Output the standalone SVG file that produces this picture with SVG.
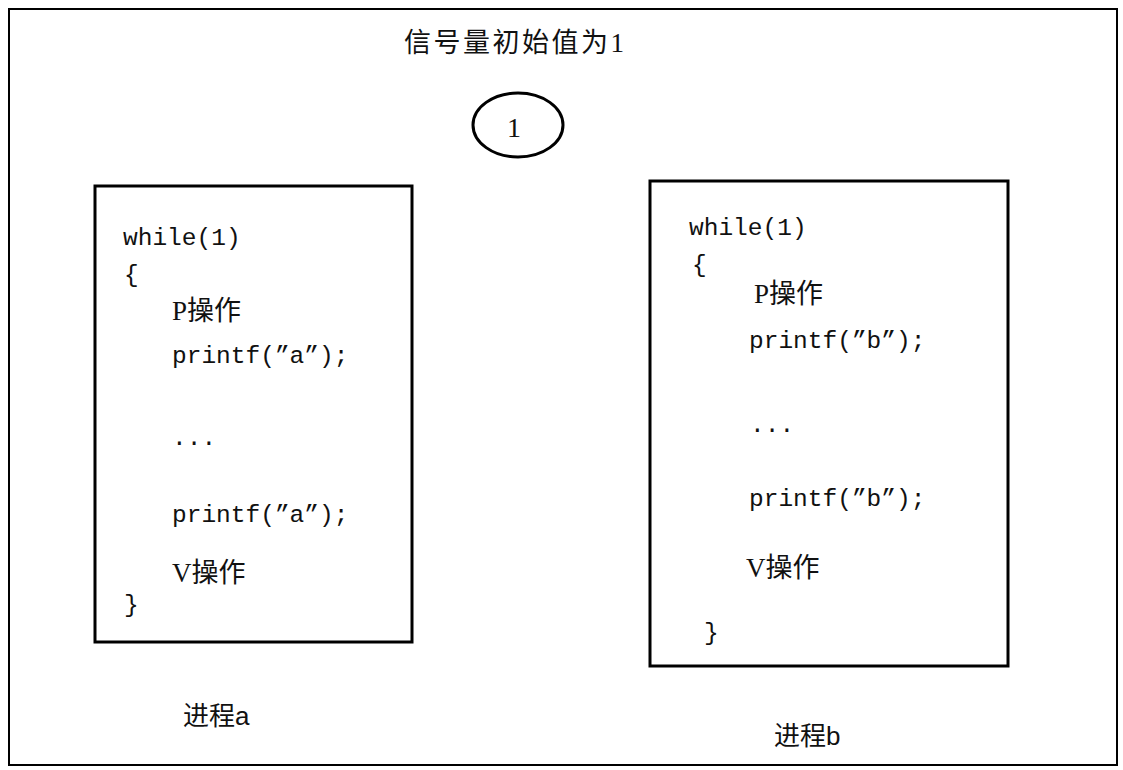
<svg xmlns="http://www.w3.org/2000/svg" width="1123" height="770" viewBox="0 0 1123 770">
<style>
.box{fill:none;stroke:#000;stroke-width:3}
.code{font-family:"Liberation Mono","Noto Sans CJK SC",monospace;font-size:24.5px;fill:#111}
.cjk{font-family:"Liberation Serif","Noto Sans CJK SC",serif;font-size:27px;fill:#111}
.lbl{font-family:"Liberation Sans","Noto Sans CJK SC",sans-serif;font-size:26px;fill:#111}
</style>
<rect x="0" y="0" width="1123" height="770" fill="#fff"/>
<rect x="9" y="9" width="1108" height="756" fill="none" stroke="#000" stroke-width="2"/>
<g id="title">
<text x="404" y="52" class="cjk" style="font-size:27px;letter-spacing:2.5px">信号量初始值为1</text>
</g>
<g id="semaphore">
<ellipse cx="518" cy="125" rx="45" ry="32" fill="none" stroke="#000" stroke-width="3"/>
<text x="514" y="137" class="cjk" text-anchor="middle" style="font-size:28px">1</text>
</g>
<g id="processA">
<rect x="95" y="186" width="317" height="456" class="box"/>
<text x="123" y="245" class="code">while(1)</text>
<text x="124" y="282" class="code">{</text>
<text x="172" y="320" class="cjk">P操作</text>
<text x="172" y="363" class="code">printf(”a”);</text>
<text x="172" y="445" class="code">...</text>
<text x="172" y="522" class="code">printf(”a”);</text>
<text x="172" y="582" class="cjk">V操作</text>
<text x="124" y="612" class="code">}</text>
</g>
<g id="processB">
<rect x="650" y="181" width="358" height="485" class="box"/>
<text x="689" y="235" class="code">while(1)</text>
<text x="692" y="272" class="code">{</text>
<text x="754" y="303" class="cjk">P操作</text>
<text x="749" y="348" class="code">printf(”b”);</text>
<text x="750" y="432" class="code">...</text>
<text x="749" y="506" class="code">printf(”b”);</text>
<text x="746" y="577" class="cjk">V操作</text>
<text x="704" y="640" class="code">}</text>
</g>
<g id="labelA"><text x="183" y="725" class="lbl">进程a</text></g>
<g id="labelB"><text x="774" y="745" class="lbl">进程b</text></g>
<g id="connectors"></g>
</svg>
